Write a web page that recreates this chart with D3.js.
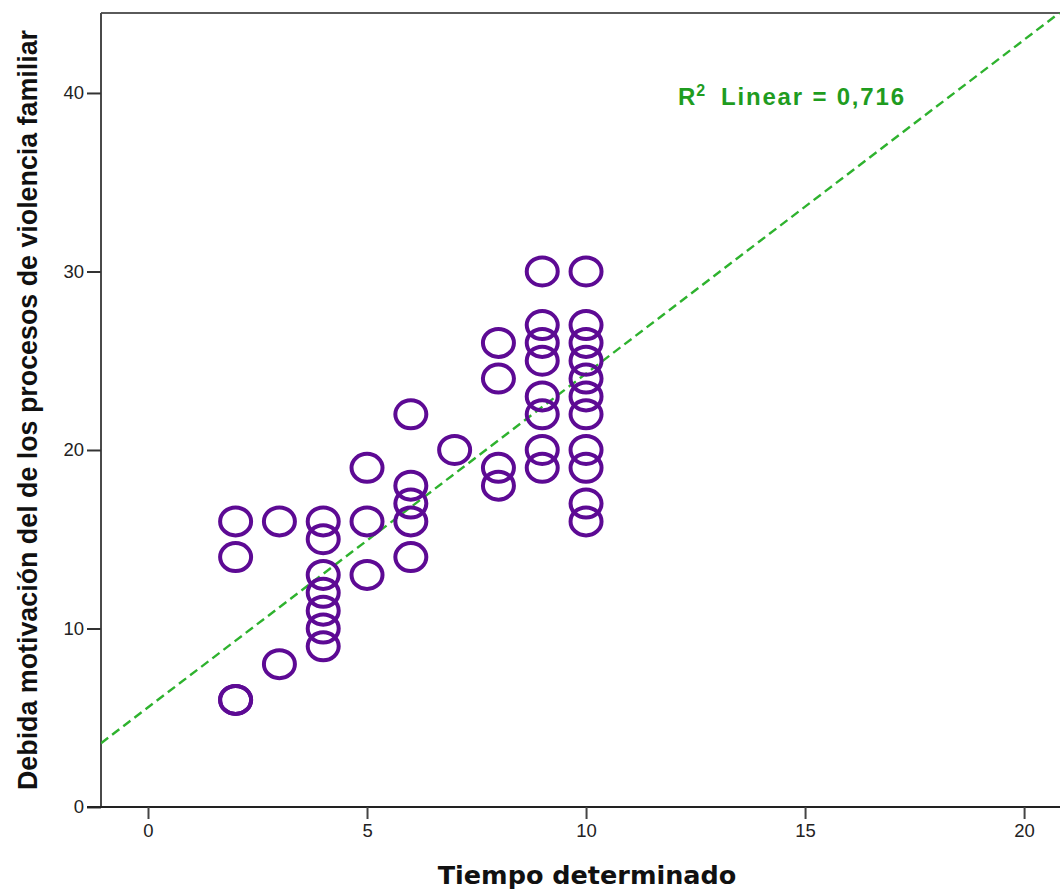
<!DOCTYPE html>
<html>
<head>
<meta charset="utf-8">
<script src="https://cdn.jsdelivr.net/npm/d3@7"></script>
<style>
  body { margin: 0; background: #fff; }
  svg { display: block; }
</style>
</head>
<body>
<div id="chart"></div>
<script>
// points (x = tiempo, y = motivación)
let tiempo = [2, 2, 2, 2, 3, 3, 4, 4, 4, 4, 4, 4, 4, 5, 5, 5, 6, 6, 6, 6, 6, 7,
  8, 8, 8, 8, 9, 9, 9, 9, 9, 9, 9, 9,
  10, 10, 10, 10, 10, 10, 10, 10, 10, 10, 10];
let motivacion = [16, 14, 6, 6, 16, 8, 16, 15, 13, 12, 11, 10, 9, 19, 16, 13, 22, 18, 17, 16, 14, 20,
  26, 24, 19, 18, 30, 27, 26, 25, 23, 22, 20, 19,
  30, 27, 26, 25, 24, 23, 22, 20, 19, 17, 16];
let xTicks = [0, 5, 10, 15, 20];
let yTicks = [0, 10, 20, 30, 40];
// fit line as drawn (intercept, slope)
let fitLine = [5.58, 1.87];
let r2Label = "0,716";

let w = 1060;
let h = 893;

let svg = d3.select("#chart")
  .append("svg")
  .attr("width", w)
  .attr("height", h);

let padLeft = 101, padTop = 13, padBottom = 807;

let x = d3.scaleLinear().domain([-1.073, 20.82]).range([padLeft, 1060]);
let y = d3.scaleLinear().domain([0, 44.48]).range([padBottom, padTop]);

svg.append("clipPath").attr("id", "plot")
  .append("rect")
  .attr("x", padLeft).attr("y", padTop)
  .attr("width", w - padLeft).attr("height", padBottom - padTop);

// frame: top line + left axis
svg.append("line")
  .attr("x1", padLeft).attr("x2", w)
  .attr("y1", padTop).attr("y2", padTop)
  .attr("stroke", "#5a5a5a").attr("stroke-width", 2);

let yAxis = d3.axisLeft(y).tickValues(yTicks).tickSize(14).tickPadding(3);
let gy = svg.append("g")
  .attr("transform", "translate(" + padLeft + ",0)")
  .call(yAxis);
gy.select(".domain").attr("stroke", "#4a4a4a").attr("stroke-width", 2)
  .attr("d", "M0," + padTop + "V" + padBottom);
gy.selectAll(".tick line").attr("stroke", "#333").attr("stroke-width", 2);
gy.selectAll("text")
  .attr("font-family", "Liberation Sans, Arial, sans-serif")
  .attr("font-size", 18.5)
  .attr("fill", "#222");

let xAxis = d3.axisBottom(x).tickValues(xTicks).tickSize(12).tickPadding(5);
let gx = svg.append("g")
  .attr("transform", "translate(0," + padBottom + ")")
  .call(xAxis);
gx.select(".domain").attr("stroke", "#222").attr("stroke-width", 2)
  .attr("d", "M" + (padLeft - 14) + ",0H" + w);
gx.selectAll(".tick line").attr("stroke", "#444").attr("stroke-width", 2);
gx.selectAll("text")
  .attr("font-family", "Liberation Sans, Arial, sans-serif")
  .attr("font-size", 18.5)
  .attr("fill", "#222");

// regression line
let x0 = x.domain()[0], x1 = x.domain()[1];
svg.append("line")
  .attr("clip-path", "url(#plot)")
  .attr("x1", x(x0)).attr("y1", y(fitLine[0] + fitLine[1] * x0))
  .attr("x2", x(x1)).attr("y2", y(fitLine[0] + fitLine[1] * x1))
  .attr("stroke", "#2eb22e")
  .attr("stroke-width", 2.4)
  .attr("stroke-dasharray", "9,5");

// points
let pts = tiempo.map(function(d, i) { return [d, motivacion[i]]; });
svg.append("g")
  .selectAll("ellipse")
  .data(pts)
  .enter()
  .append("ellipse")
  .attr("cx", function(d) { return x(d[0]); })
  .attr("cy", function(d) { return y(d[1]); })
  .attr("rx", 15.5)
  .attr("ry", 14)
  .attr("fill", "none")
  .attr("stroke", "#5d0a94")
  .attr("stroke-width", 4);

// R2 label
let labFont = "Liberation Sans, Arial, sans-serif";
let lab = svg.append("text")
  .attr("x", 678).attr("y", 105)
  .attr("font-family", labFont)
  .attr("font-weight", "bold")
  .attr("font-size", 24)
  .attr("fill", "#1f9c1f");
lab.append("tspan").text("R");
lab.append("tspan").text("2").attr("font-size", 16).attr("dy", -9).attr("dx", 1);
svg.append("text")
  .attr("x", 721).attr("y", 105)
  .attr("font-family", labFont)
  .attr("font-weight", "bold")
  .attr("font-size", 24)
  .attr("fill", "#1f9c1f")
  .attr("textLength", 183)
  .attr("lengthAdjust", "spacing")
  .text("Linear = " + r2Label);

// axis titles
svg.append("text")
  .attr("x", 587).attr("y", 884)
  .attr("text-anchor", "middle")
  .attr("font-family", "DejaVu Sans, sans-serif")
  .attr("font-weight", "bold")
  .attr("font-size", 25.5)
  .attr("fill", "#111")
  .text("Tiempo determinado");

svg.append("text")
  .attr("transform", "translate(37,410) rotate(-90)")
  .attr("text-anchor", "middle")
  .attr("font-family", "Liberation Sans, Arial, sans-serif")
  .attr("font-weight", "bold")
  .attr("font-size", 27)
  .attr("fill", "#111")
  .attr("textLength", 760)
  .attr("lengthAdjust", "spacingAndGlyphs")
  .text("Debida motivación del de los procesos de violencia familiar");
</script>
</body>
</html>
